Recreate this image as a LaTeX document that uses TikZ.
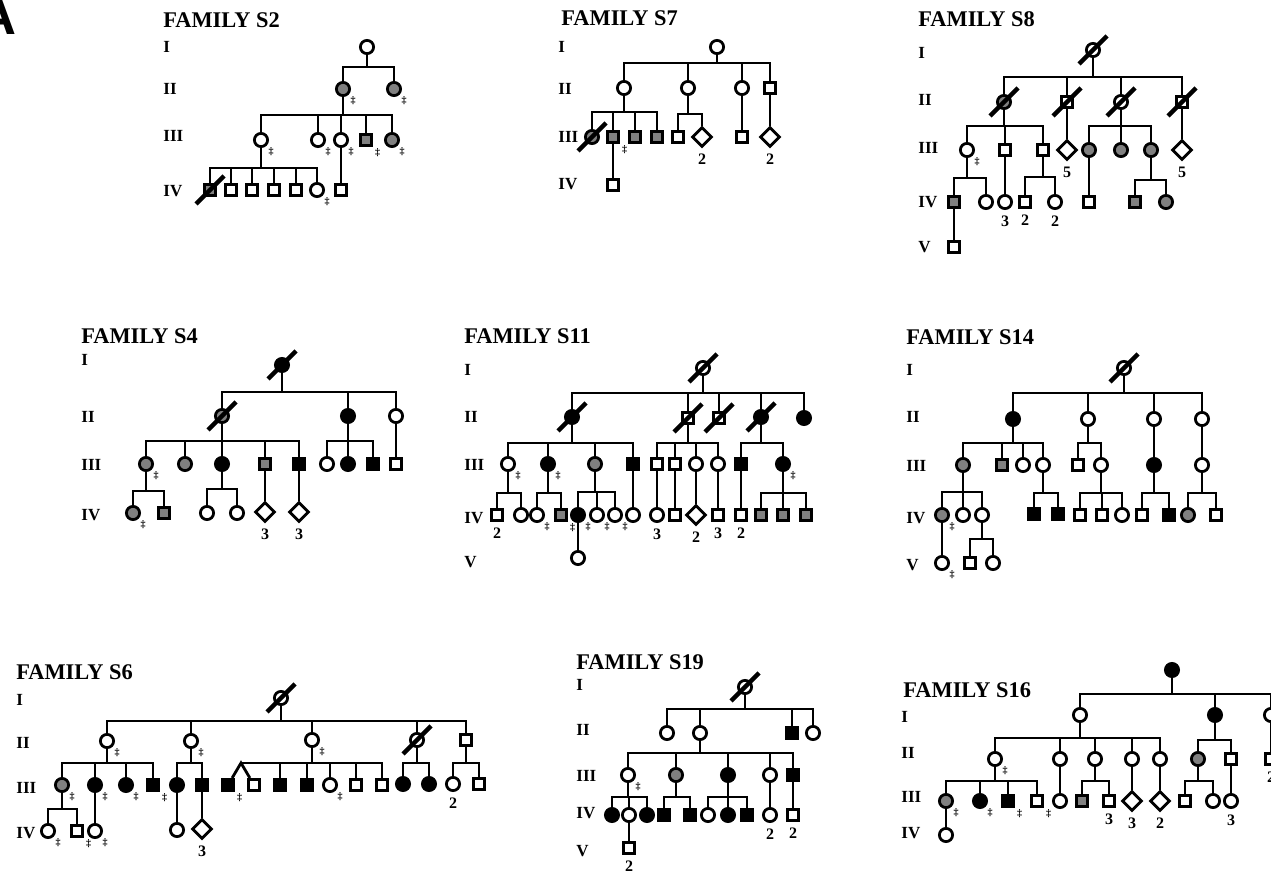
\documentclass[tikz,border=0pt]{standalone}
\usepackage{fontspec}
\setmainfont{Liberation Serif}
\newfontfamily\panelfont{Liberation Sans}
\usetikzlibrary{shapes.geometric}

% sibship: parent down to line at height #2, then to each child
\newcommand{\kids}[3]{\foreach \k in {#3} {\draw (#1) -- (#1 |- 0,#2) -| (\k);}}
\newcommand{\dead}[1]{\draw[slash] (#1.center) ++(-14,14) -- ++(28,-28);}

\begin{document}
\begin{tikzpicture}[
    x=0.5pt, y=-0.5pt,
    line width=1.4pt,
    fem/.style={circle, draw, minimum size=6.6pt, inner sep=0pt},
    mal/.style={rectangle, draw, minimum size=5.6pt, inner sep=0pt},
    unk/.style={diamond, draw, minimum size=10pt, inner sep=0pt},
    aff/.style={fill=black},
    car/.style={fill=black!50},
    tagmark/.style={font=\fontsize{5}{5}\selectfont\bfseries, inner sep=0.3pt},
    numlbl/.style={font=\fontsize{8}{8}\selectfont\bfseries, inner sep=0.5pt, yshift=-1.6pt},
    smp/.style={label={[tagmark]-45:\ddag}},
    nb/.style={label={[numlbl]below:#1}},
    title/.style={anchor=west, inner sep=0pt, font=\fontsize{11.2}{12}\selectfont\bfseries},
    gen/.style={anchor=west, inner sep=0pt, font=\fontsize{8.5}{9}\selectfont\bfseries},
    slash/.style={line width=2.2pt}
]
\fill[white] (0,0) rectangle (1271,876);
\useasboundingbox (0,0) rectangle (1271,876);
\node[anchor=base east, inner sep=0pt, font=\fontsize{27}{27}\panelfont\bfseries] (panel) at (18,35) {A};

% family S2
\node[title] (s2t) at (162,20) {FAMILY S2};
\foreach \g/\y in {I/47,II/89,III/136,IV/191} \node[gen] (s2g\g) at (162,\y) {\g};
\node[fem] (s2a) at (367,47) {};
\node[fem,car,smp] (s2b1) at (343,89) {};
\node[fem,car,smp] (s2b2) at (394,89) {};
\node[fem,smp] (s2c1) at (261,140) {};
\node[fem,smp] (s2c2) at (318,140) {};
\node[fem,smp] (s2c3) at (341,140) {};
\node[mal,car,smp] (s2c4) at (366,140) {};
\node[fem,car,smp] (s2c5) at (392,140) {};
\node[mal,car] (s2d1) at (210,190) {};
\node[mal] (s2d2) at (231,190) {};
\node[mal] (s2d3) at (252,190) {};
\node[mal] (s2d4) at (274,190) {};
\node[mal] (s2d5) at (296,190) {};
\node[fem,smp] (s2d6) at (317,190) {};
\node[mal] (s2d7) at (341,190) {};
\dead{s2d1}
\kids{s2a}{67}{s2b1,s2b2}
\kids{s2b1}{115}{s2c1,s2c2,s2c3,s2c4,s2c5}
\kids{s2c1}{168}{s2d1,s2d2,s2d3,s2d4,s2d5,s2d6}
\draw (s2c3) -- (s2d7);

% family S7
\node[title] (s7t) at (560,18) {FAMILY S7};
\foreach \g/\y in {I/47,II/89,III/137,IV/184} \node[gen] (s7g\g) at (557,\y) {\g};
\node[fem] (s7a) at (717,47) {};
\node[fem] (s7b1) at (624,88) {};
\node[fem] (s7b2) at (688,88) {};
\node[fem] (s7b3) at (742,88) {};
\node[mal] (s7b4) at (770,88) {};
\node[fem,car] (s7c1) at (592,137) {};
\node[mal,car,smp] (s7c2) at (613,137) {};
\node[mal,car] (s7c3) at (635,137) {};
\node[mal,car] (s7c4) at (657,137) {};
\node[mal] (s7c5) at (678,137) {};
\node[unk,nb=2] (s7c6) at (702,137) {};
\node[mal] (s7c7) at (742,137) {};
\node[unk,nb=2] (s7c8) at (770,137) {};
\node[mal] (s7d1) at (613,185) {};
\dead{s7c1}
\kids{s7a}{63}{s7b1,s7b2,s7b3,s7b4}
\kids{s7b1}{112}{s7c1,s7c2,s7c3,s7c4}
\kids{s7b2}{114}{s7c5,s7c6}
\draw (s7b3) -- (s7c7);
\draw (s7b4) -- (s7c8);
\draw (s7c2) -- (s7d1);

% family S8
\node[title] (s8t) at (917,19) {FAMILY S8};
\foreach \g/\y in {I/53,II/100,III/148,IV/202,V/247} \node[gen] (s8g\g) at (917,\y) {\g};
\node[fem] (s8a) at (1093,50) {};
\node[fem,car] (s8b1) at (1004,102) {};
\node[mal] (s8b2) at (1067,102) {};
\node[fem] (s8b3) at (1121,102) {};
\node[mal] (s8b4) at (1182,102) {};
\node[fem,smp] (s8c1) at (967,150) {};
\node[mal] (s8c2) at (1005,150) {};
\node[mal] (s8c3) at (1043,150) {};
\node[unk,nb=5] (s8c4) at (1067,150) {};
\node[fem,car] (s8c5) at (1089,150) {};
\node[fem,car] (s8c6) at (1121,150) {};
\node[fem,car] (s8c7) at (1151,150) {};
\node[unk,nb=5] (s8c8) at (1182,150) {};
\node[mal,car] (s8d1) at (954,202) {};
\node[fem] (s8d2) at (986,202) {};
\node[fem,nb=3] (s8d3) at (1005,202) {};
\node[mal,nb=2] (s8d4) at (1025,202) {};
\node[fem,nb=2] (s8d5) at (1055,202) {};
\node[mal] (s8d6) at (1089,202) {};
\node[mal,car] (s8d7) at (1135,202) {};
\node[fem,car] (s8d8) at (1166,202) {};
\node[mal] (s8e1) at (954,247) {};
\foreach \p in {s8a,s8b1,s8b2,s8b3,s8b4} {\dead{\p}}
\kids{s8a}{77}{s8b1,s8b2,s8b3,s8b4}
\kids{s8b1}{126}{s8c1,s8c2,s8c3}
\draw (s8b2) -- (s8c4);
\kids{s8b3}{126}{s8c5,s8c6,s8c7}
\draw (s8b4) -- (s8c8);
\kids{s8c1}{178}{s8d1,s8d2}
\draw (s8c2) -- (s8d3);
\kids{s8c3}{177}{s8d4,s8d5}
\draw (s8c5) -- (s8d6);
\kids{s8c7}{180}{s8d7,s8d8}
\draw (s8d1) -- (s8e1);

% family S4
\node[title] (s4t) at (80,336) {FAMILY S4};
\foreach \g/\y in {I/360,II/417,III/465,IV/515} \node[gen] (s4g\g) at (80,\y) {\g};
\node[fem,aff] (s4a) at (282,365) {};
\node[fem,car] (s4b1) at (222,416) {};
\node[fem,aff] (s4b2) at (348,416) {};
\node[fem] (s4b3) at (396,416) {};
\node[fem,car,smp] (s4c1) at (146,464) {};
\node[fem,car] (s4c2) at (185,464) {};
\node[fem,aff] (s4c3) at (222,464) {};
\node[mal,car] (s4c4) at (265,464) {};
\node[mal,aff] (s4c5) at (299,464) {};
\node[fem] (s4c6) at (327,464) {};
\node[fem,aff] (s4c7) at (348,464) {};
\node[mal,aff] (s4c8) at (373,464) {};
\node[mal] (s4c9) at (396,464) {};
\node[fem,car,smp] (s4d1) at (133,513) {};
\node[mal,car] (s4d2) at (164,513) {};
\node[fem] (s4d3) at (207,513) {};
\node[fem] (s4d4) at (237,513) {};
\node[unk,nb=3] (s4d5) at (265,512) {};
\node[unk,nb=3] (s4d6) at (299,512) {};
\dead{s4a}
\dead{s4b1}
\kids{s4a}{392}{s4b1,s4b2,s4b3}
\kids{s4b1}{441}{s4c1,s4c2,s4c3,s4c4,s4c5}
\kids{s4b2}{441}{s4c6,s4c7,s4c8}
\draw (s4b3) -- (s4c9);
\kids{s4c1}{491}{s4d1,s4d2}
\kids{s4c3}{489}{s4d3,s4d4}
\draw (s4c4) -- (s4d5);
\draw (s4c5) -- (s4d6);

% family S11
\node[title] (s11t) at (463,336) {FAMILY S11};
\foreach \g/\y in {I/370,II/417,III/465,IV/518,V/562} \node[gen] (s11g\g) at (463,\y) {\g};
\node[fem] (s11a) at (703,368) {};
\node[fem,aff] (s11b1) at (572,417) {};
\node[mal] (s11b2) at (688,418) {};
\node[mal] (s11b3) at (719,418) {};
\node[fem,aff] (s11b4) at (761,417) {};
\node[fem,aff] (s11b5) at (804,418) {};
\node[fem,smp] (s11c1) at (508,464) {};
\node[fem,aff,smp] (s11c2) at (548,464) {};
\node[fem,car] (s11c3) at (595,464) {};
\node[mal,aff] (s11c4) at (633,464) {};
\node[mal] (s11c5) at (657,464) {};
\node[mal] (s11c6) at (675,464) {};
\node[fem] (s11c7) at (696,464) {};
\node[fem] (s11c8) at (718,464) {};
\node[mal,aff] (s11c9) at (741,464) {};
\node[fem,aff,smp] (s11c10) at (783,464) {};
\node[mal,nb=2] (s11d1) at (497,515) {};
\node[fem] (s11d2) at (521,515) {};
\node[fem,smp] (s11d3) at (537,515) {};
\node[mal,car,smp] (s11d4) at (561,515) {};
\node[fem,aff,smp] (s11d5) at (578,515) {};
\node[fem,smp] (s11d6) at (597,515) {};
\node[fem,smp] (s11d7) at (615,515) {};
\node[fem] (s11d8) at (633,515) {};
\node[fem,nb=3] (s11d9) at (657,515) {};
\node[mal] (s11d10) at (675,515) {};
\node[unk,nb=2] (s11d11) at (696,515) {};
\node[mal,nb=3] (s11d12) at (718,515) {};
\node[mal,nb=2] (s11d13) at (741,515) {};
\node[mal,car] (s11d14) at (761,515) {};
\node[mal,car] (s11d15) at (783,515) {};
\node[mal,car] (s11d16) at (806,515) {};
\node[fem] (s11e1) at (578,558) {};
\foreach \p in {s11a,s11b1,s11b2,s11b3,s11b4} {\dead{\p}}
\kids{s11a}{393}{s11b1,s11b2,s11b3,s11b4,s11b5}
\kids{s11b1}{443}{s11c1,s11c2,s11c3,s11c4}
\kids{s11b2}{443}{s11c5,s11c6,s11c7,s11c8}
\kids{s11b4}{443}{s11c9,s11c10}
\kids{s11c1}{493}{s11d1,s11d2}
\kids{s11c2}{493}{s11d3,s11d4}
\kids{s11c3}{492}{s11d5,s11d6,s11d7}
\draw (s11c4) -- (s11d8);
\draw (s11c5) -- (s11d9);
\draw (s11c6) -- (s11d10);
\draw (s11c7) -- (s11d11);
\draw (s11c8) -- (s11d12);
\draw (s11c9) -- (s11d13);
\kids{s11c10}{493}{s11d14,s11d15,s11d16}
\draw (s11d5) -- (s11e1);

% family S14
\node[title] (s14t) at (905,337) {FAMILY S14};
\foreach \g/\y in {I/370,II/417,III/466,IV/518,V/565} \node[gen] (s14g\g) at (905,\y) {\g};
\node[fem] (s14a) at (1124,368) {};
\node[fem,aff] (s14b1) at (1013,419) {};
\node[fem] (s14b2) at (1088,419) {};
\node[fem] (s14b3) at (1154,419) {};
\node[fem] (s14b4) at (1202,419) {};
\node[fem,car] (s14c1) at (963,465) {};
\node[mal,car] (s14c2) at (1002,465) {};
\node[fem] (s14c3) at (1023,465) {};
\node[fem] (s14c4) at (1043,465) {};
\node[mal] (s14c5) at (1078,465) {};
\node[fem] (s14c6) at (1101,465) {};
\node[fem,aff] (s14c7) at (1154,465) {};
\node[fem] (s14c8) at (1202,465) {};
\node[fem,car,smp] (s14d1) at (942,515) {};
\node[fem] (s14d2) at (963,515) {};
\node[fem] (s14d3) at (982,515) {};
\node[mal,aff] (s14d4) at (1034,514) {};
\node[mal,aff] (s14d5) at (1058,514) {};
\node[mal] (s14d6) at (1080,515) {};
\node[mal] (s14d7) at (1102,515) {};
\node[fem] (s14d8) at (1122,515) {};
\node[mal] (s14d9) at (1142,515) {};
\node[mal,aff] (s14d10) at (1169,515) {};
\node[fem,car] (s14d11) at (1188,515) {};
\node[mal] (s14d12) at (1216,515) {};
\node[fem,smp] (s14e1) at (942,563) {};
\node[mal] (s14e2) at (970,563) {};
\node[fem] (s14e3) at (993,563) {};
\dead{s14a}
\kids{s14a}{393}{s14b1,s14b2,s14b3,s14b4}
\kids{s14b1}{443}{s14c1,s14c2,s14c3,s14c4}
\kids{s14b2}{443}{s14c5,s14c6}
\draw (s14b3) -- (s14c7);
\draw (s14b4) -- (s14c8);
\kids{s14c1}{492}{s14d1,s14d2,s14d3}
\kids{s14c4}{493}{s14d4,s14d5}
\kids{s14c6}{493}{s14d6,s14d7,s14d8}
\kids{s14c7}{493}{s14d9,s14d10}
\kids{s14c8}{493}{s14d11,s14d12}
\draw (s14d1) -- (s14e1);
\kids{s14d3}{539}{s14e2,s14e3}

% family S6
\node[title] (s6t) at (15,672) {FAMILY S6};
\foreach \g/\y in {I/700,II/743,III/788,IV/833} \node[gen] (s6g\g) at (15,\y) {\g};
\node[fem] (s6a) at (281,698) {};
\node[fem,smp] (s6b1) at (107,741) {};
\node[fem,smp] (s6b2) at (191,741) {};
\node[fem,smp] (s6b3) at (312,740) {};
\node[fem] (s6b4) at (417,740) {};
\node[mal] (s6b5) at (466,740) {};
\node[fem,car,smp] (s6c1) at (62,785) {};
\node[fem,aff,smp] (s6c2) at (95,785) {};
\node[fem,aff,smp] (s6c3) at (126,785) {};
\node[mal,aff,smp] (s6c4) at (153,785) {};
\node[fem,aff] (s6c5) at (177,785) {};
\node[mal,aff] (s6c6) at (202,785) {};
\node[mal,aff,smp] (s6c7) at (228,785) {};
\node[mal] (s6c8) at (254,785) {};
\coordinate (s6tw) at (241,763);
\node[mal,aff] (s6c9) at (280,785) {};
\node[mal,aff] (s6c10) at (307,785) {};
\node[fem,smp] (s6c11) at (330,785) {};
\node[mal] (s6c12) at (356,785) {};
\node[mal] (s6c13) at (382,785) {};
\node[fem,aff] (s6c14) at (403,784) {};
\node[fem,aff] (s6c15) at (429,784) {};
\node[fem,nb=2] (s6c16) at (453,784) {};
\node[mal] (s6c17) at (479,784) {};
\node[fem,smp] (s6d1) at (48,831) {};
\node[mal,smp] (s6d2) at (77,831) {};
\node[fem,smp] (s6d3) at (95,831) {};
\node[fem] (s6d4) at (177,830) {};
\node[unk,nb=3] (s6d5) at (202,829) {};
\dead{s6a}
\dead{s6b4}
\kids{s6a}{721}{s6b1,s6b2,s6b3,s6b4,s6b5}
\kids{s6b1}{763}{s6c1,s6c2,s6c3,s6c4}
\kids{s6b2}{763}{s6c5,s6c6}
\kids{s6b3}{763}{s6c9,s6c10,s6c11,s6c12,s6c13}
\draw (s6c7) -- (s6tw) -- (s6c8);
\draw (s6tw) -| (s6c9);
\kids{s6b4}{763}{s6c14,s6c15}
\kids{s6b5}{763}{s6c16,s6c17}
\kids{s6c1}{809}{s6d1,s6d2}
\draw (s6c2) -- (s6d3);
\draw (s6c5) -- (s6d4);
\draw (s6c6) -- (s6d5);

% family S19
\node[title] (s19t) at (575,662) {FAMILY S19};
\foreach \g/\y in {I/685,II/730,III/776,IV/813,V/851} \node[gen] (s19g\g) at (575,\y) {\g};
\node[fem] (s19a) at (745,687) {};
\node[fem] (s19b1) at (667,733) {};
\node[fem] (s19b2) at (700,733) {};
\node[mal,aff] (s19b3) at (792,733) {};
\node[fem] (s19b4) at (813,733) {};
\node[fem,smp] (s19c1) at (628,775) {};
\node[fem,car] (s19c2) at (676,775) {};
\node[fem,aff] (s19c3) at (728,775) {};
\node[fem] (s19c4) at (770,775) {};
\node[mal,aff] (s19c5) at (793,775) {};
\node[fem,aff] (s19d1) at (612,815) {};
\node[fem] (s19d2) at (629,815) {};
\node[fem,aff] (s19d3) at (647,815) {};
\node[mal,aff] (s19d4) at (664,815) {};
\node[mal,aff] (s19d5) at (690,815) {};
\node[fem] (s19d6) at (708,815) {};
\node[fem,aff] (s19d7) at (728,815) {};
\node[mal,aff] (s19d8) at (747,815) {};
\node[fem,nb=2] (s19d9) at (770,815) {};
\node[mal,nb=2] (s19d10) at (793,815) {};
\node[mal,nb=2] (s19e1) at (629,848) {};
\dead{s19a}
\kids{s19a}{709}{s19b1,s19b2,s19b3,s19b4}
\kids{s19b2}{753}{s19c1,s19c2,s19c3,s19c4,s19c5}
\kids{s19c1}{797}{s19d1,s19d2,s19d3}
\kids{s19c2}{797}{s19d4,s19d5}
\kids{s19c3}{797}{s19d6,s19d7,s19d8}
\draw (s19c4) -- (s19d9);
\draw (s19c5) -- (s19d10);
\draw (s19d2) -- (s19e1);

% family S16
\node[title] (s16t) at (902,690) {FAMILY S16};
\foreach \g/\y in {I/717,II/753,III/797,IV/833} \node[gen] (s16g\g) at (900,\y) {\g};
\node[fem,aff] (s16a) at (1172,670) {};
\node[fem] (s16b1) at (1080,715) {};
\node[fem,aff] (s16b2) at (1215,715) {};
\node[fem] (s16b3) at (1271,715) {};
\node[fem,smp] (s16c1) at (995,759) {};
\node[fem] (s16c2) at (1060,759) {};
\node[fem] (s16c3) at (1095,759) {};
\node[fem] (s16c4) at (1132,759) {};
\node[fem] (s16c5) at (1160,759) {};
\node[fem,car] (s16c6) at (1198,759) {};
\node[mal] (s16c7) at (1231,759) {};
\node[mal,nb=2] (s16c8) at (1271,759) {};
\node[fem,car,smp] (s16d1) at (946,801) {};
\node[fem,aff,smp] (s16d2) at (980,801) {};
\node[mal,aff,smp] (s16d3) at (1008,801) {};
\node[mal,smp] (s16d4) at (1037,801) {};
\node[fem] (s16d5) at (1060,801) {};
\node[mal,car] (s16d6) at (1082,801) {};
\node[mal,nb=3] (s16d7) at (1109,801) {};
\node[unk,nb=3] (s16d8) at (1132,801) {};
\node[unk,nb=2] (s16d9) at (1160,801) {};
\node[mal] (s16d10) at (1185,801) {};
\node[fem] (s16d11) at (1213,801) {};
\node[fem,nb=3] (s16d12) at (1231,801) {};
\node[fem] (s16e1) at (946,835) {};
\kids{s16a}{694}{s16b1,s16b2,s16b3}
\kids{s16b1}{738}{s16c1,s16c2,s16c3,s16c4,s16c5}
\kids{s16b2}{740}{s16c6,s16c7}
\draw (s16b3) -- (s16c8);
\kids{s16c1}{781}{s16d1,s16d2,s16d3,s16d4}
\draw (s16c2) -- (s16d5);
\kids{s16c3}{781}{s16d6,s16d7}
\draw (s16c4) -- (s16d8);
\draw (s16c5) -- (s16d9);
\kids{s16c6}{781}{s16d10,s16d11}
\draw (s16c7) -- (s16d12);
\draw (s16d1) -- (s16e1);
\end{tikzpicture}
\end{document}
